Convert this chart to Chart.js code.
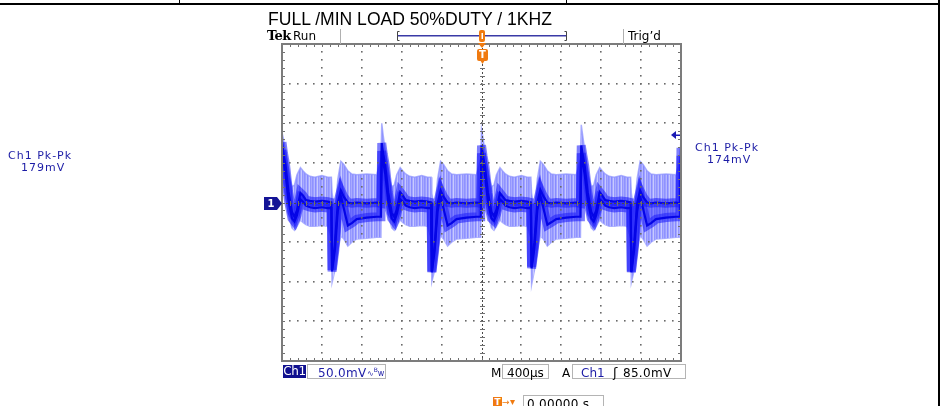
<!DOCTYPE html>
<html>
<head>
<meta charset="utf-8">
<title>FULL /MIN LOAD 50%DUTY / 1KHZ</title>
<script src="https://cdn.jsdelivr.net/npm/chart.js@4.4.1/dist/chart.umd.min.js"></script>
<style>
  html, body { margin: 0; padding: 0; background: #fff; }
  body { position: relative; width: 946px; height: 406px; overflow: hidden; font-family: 'DejaVu Sans', sans-serif; }
  #scope { position: absolute; left: 0; top: 0; }
  .txt { position: absolute; white-space: nowrap; line-height: 1; font-size: 12px; color: #000; }
  .blue { color: #1c1ca6; }
  .box { position: absolute; border: 1px solid #b4b4b4; box-sizing: border-box; }
  .rule { position: absolute; background: #000; }
</style>
</head>
<body>
<div class="rule" style="left:0;top:3px;width:940px;height:2px"></div>
<div class="rule" style="left:179px;top:0;width:1px;height:4px"></div>
<div class="rule" style="left:566px;top:0;width:1px;height:4px"></div>
<div class="rule" style="left:938px;top:0;width:2px;height:406px"></div>

<canvas id="scope" width="946" height="406"></canvas>

<div id="title" class="txt" style="left:268px;top:10px;font-family:'Liberation Sans Narrow','Liberation Sans',sans-serif;font-size:18px;transform-origin:0 0">FULL /MIN LOAD 50%DUTY / 1KHZ</div>
<div class="txt" style="left:267px;top:29px;font-family:'DejaVu Serif',serif;font-weight:bold;font-size:13px;letter-spacing:-0.6px">Tek</div>
<div class="txt" style="left:293px;top:30px">Run</div>
<div class="txt" style="left:628px;top:30px">Trig’d</div>

<!-- measurement readouts -->
<div class="txt blue" style="left:8px;top:150px;font-size:11px;letter-spacing:1px">Ch1 Pk-Pk</div>
<div class="txt blue" style="left:21px;top:162px;font-size:11px;letter-spacing:1px">179mV</div>
<div class="txt blue" style="left:695px;top:142px;font-size:11px;letter-spacing:1px">Ch1 Pk-Pk</div>
<div class="txt blue" style="left:707px;top:154px;font-size:11px;letter-spacing:1px">174mV</div>

<!-- status line -->
<div class="txt" style="left:283px;top:365px;width:23px;height:13px;line-height:13px;background:#10108f;color:#fff;letter-spacing:-0.4px;text-align:center">Ch1</div>
<div class="box" style="left:307px;top:364px;width:79px;height:15px"></div>
<div class="txt blue" style="left:318px;top:367px;letter-spacing:0.3px">50.0mV</div>
<div class="txt blue" style="left:367px;top:367px;font-size:8px">∿<sup style="font-size:6px">B</sup>w</div>
<div class="txt" style="left:491px;top:367px">M</div>
<div class="box" style="left:502px;top:364px;width:47px;height:15px"></div>
<div class="txt" style="left:507px;top:367px">400µs</div>
<div class="txt" style="left:562px;top:367px">A</div>
<div class="box" style="left:572px;top:364px;width:114px;height:15px"></div>
<div class="txt blue" style="left:581px;top:367px">Ch1</div>
<div class="txt" style="left:613px;top:366px;font-size:13px">ʃ</div>
<div class="txt" style="left:623px;top:367px;letter-spacing:0.3px">85.0mV</div>

<div class="txt" style="left:493px;top:397px;width:9px;height:10px;line-height:10px;background:#f07a10;color:#fff;font-size:9px;font-weight:bold;text-align:center">T</div>
<div class="txt" style="left:502px;top:398px;font-size:9px;color:#f07a10">→</div>
<div class="txt" style="left:510px;top:397px;font-size:10px;color:#f07a10">▾</div>
<div class="box" style="left:523px;top:395px;width:81px;height:15px"></div>
<div class="txt" style="left:527px;top:398px;letter-spacing:0.3px">0.00000 s</div>

<script>
// 400 µs/div horizontally, 50 mV/div vertically, 10 x 8 divisions
const timePerDiv = 400;
const voltsPerDiv = 50;
const xMin = -2000, xMax = 2000;
const yMin = -200, yMax = 200;
const triggerLevel = 85;

// sample times (µs), four 1 kHz periods on screen
const timeUs = [
  -2000, -1985, -1965, -1935, -1900, -1875, -1850, -1815, -1790, -1760, -1720, -1670, -1600, -1540, -1505, -1498, -1470, -1440, -1410, -1380, -1340, -1300, -1250, -1150, -1050,
  -1008, -1000, -985, -965, -935, -900, -875, -850, -815, -790, -760, -720, -670, -600, -540, -505, -498, -470, -440, -410, -380, -340, -300, -250, -150, -50,
  -8, 0, 15, 35, 65, 100, 125, 150, 185, 210, 240, 280, 330, 400, 460, 495, 502, 530, 560, 590, 620, 660, 700, 750, 850, 950,
  992, 1000, 1015, 1035, 1065, 1100, 1125, 1150, 1185, 1210, 1240, 1280, 1330, 1400, 1460, 1495, 1502, 1530, 1560, 1590, 1620, 1660, 1700, 1750, 1850, 1950,
  1992, 2000
];

// dense persistence trace, upper branch (mV)
const ch1Upper = [
  76, 62, 48, 14, -12, -18, -10, 12, 9, 3, 2, 1, 2, 1, 0, -85, -52, 0, 15, 7, 0, -1, 0, -1, 0,
  -1, 75, 61, 47, 13, -13, -18, -9, 13, 9, 3, 2, 1, 2, 1, 0, -87, -54, -1, 15, 7, 0, -1, 0, -1, 0,
  -1, 72, 59, 45, 12, -12, -17, -9, 12, 8, 3, 2, 1, 2, 1, 0, -81, -50, 0, 16, 8, 0, -1, 0, -1, 0,
  -1, 72, 60, 46, 13, -12, -18, -10, 13, 9, 3, 2, 1, 2, 1, 0, -87, -53, -1, 15, 7, 0, -1, 0, -1, 0,
  -1, 69
];

// dense persistence trace, lower branch (mV)
const ch1Lower = [
  66, 52, 36, 2, -20, -24, -16, 4, 1, -4, -6, -7, -6, -7, -7, -87, -60, -10, 8, -8, -29, -26, -21, -19, -18,
  -18, 65, 51, 36, 1, -20, -24, -15, 4, 1, -4, -6, -7, -6, -7, -7, -88, -61, -11, 8, -8, -29, -26, -21, -19, -18,
  -18, 62, 49, 34, 1, -20, -23, -15, 4, 1, -4, -6, -7, -6, -7, -7, -83, -58, -10, 9, -7, -28, -25, -21, -19, -18,
  -18, 62, 50, 35, 2, -20, -24, -16, 4, 1, -4, -6, -7, -6, -7, -7, -88, -60, -11, 8, -8, -29, -26, -21, -19, -18,
  -18, 59
];

// switching-noise envelope (mV)
const envHigh = [
  88, 80, 64, 36, 20, 22, 35, 44, 40, 36, 33, 32, 34, 32, 32, 12, -12, 30, 52, 48, 40, 36, 35, 36, 35,
  55, 100, 84, 66, 36, 20, 22, 35, 44, 40, 36, 33, 32, 34, 32, 32, 12, -12, 30, 52, 48, 40, 36, 35, 36, 35,
  55, 92, 82, 64, 36, 20, 22, 35, 44, 40, 36, 33, 32, 34, 32, 32, 12, -12, 30, 52, 48, 40, 36, 35, 36, 35,
  55, 98, 84, 66, 36, 20, 22, 35, 44, 40, 36, 33, 32, 34, 32, 32, 12, -12, 30, 52, 48, 40, 36, 35, 36, 35,
  55, 85
];
const envLow = [
  52, 35, 15, -16, -32, -35, -30, -22, -25, -28, -30, -30, -29, -30, -45, -101, -86, -60, -42, -46, -55, -50, -46, -45, -44,
  -44, 55, 35, 15, -16, -32, -35, -30, -22, -25, -28, -30, -30, -29, -30, -45, -100, -86, -60, -42, -46, -55, -50, -46, -45, -44,
  -44, 52, 33, 14, -16, -32, -35, -30, -22, -25, -28, -30, -30, -29, -30, -45, -104, -86, -60, -42, -46, -55, -50, -46, -45, -44,
  -44, 55, 35, 15, -16, -32, -35, -30, -22, -25, -28, -30, -30, -29, -30, -45, -101, -86, -60, -42, -46, -55, -50, -46, -45, -44,
  -44, 50
];

const pts = arr => timeUs.map((t, i) => ({ x: t, y: arr[i] }));

// fit the condensed title to its width in the screenshot
const title = document.getElementById('title');
title.style.transform = `scaleX(${284 / title.getBoundingClientRect().width})`;

// striped light-blue fill like the persistence streaks
function streakPattern() {
  const c = document.createElement('canvas');
  const cols = ['#8f92ff', '#9da0ff', '#b6b8ff', '#878aff', '#a2a5ff', '#c8caff', '#9396ff', '#a9abff'];
  c.width = cols.length; c.height = 1;
  const g = c.getContext('2d');
  cols.forEach((col, i) => { g.fillStyle = col; g.fillRect(i, 0, 1, 1); });
  return g.createPattern(c, 'repeat');
}

const graticule = {
  id: 'graticule',
  afterDatasetsDraw(chart) {
    const { ctx, chartArea: a, scales: { x, y } } = chart;
    const px = t => Math.round(x.getPixelForValue(t));
    const py = v => Math.round(y.getPixelForValue(v));
    const cx = px(0), cy = py(0);
    ctx.save();

    // dotted division lines
    ctx.fillStyle = '#6a6a6a';
    for (let t = xMin + timePerDiv; t < xMax; t += timePerDiv) {
      if (t === 0) continue;
      for (let v = yMin; v <= yMax; v += voltsPerDiv / 5) ctx.fillRect(px(t) - 1, py(v) - 1, 1.6, 1.6);
    }
    for (let v = yMin + voltsPerDiv; v < yMax; v += voltsPerDiv) {
      if (v === 0) continue;
      for (let t = xMin; t <= xMax; t += timePerDiv / 5) ctx.fillRect(px(t) - 1, py(v) - 1, 1.6, 1.6);
    }

    // centre cross with minor ticks
    ctx.strokeStyle = '#4a4a4a';
    ctx.lineWidth = 1;
    ctx.setLineDash([2, 2]);
    ctx.beginPath();
    ctx.moveTo(cx + 0.5, a.top); ctx.lineTo(cx + 0.5, a.bottom);
    ctx.moveTo(a.left, cy + 0.5); ctx.lineTo(a.right, cy + 0.5);
    ctx.stroke();
    ctx.setLineDash([]);
    ctx.strokeStyle = '#707070';
    ctx.beginPath();
    for (let t = xMin; t <= xMax; t += timePerDiv / 5) {
      const p = px(t) + 0.5;
      ctx.moveTo(p, cy - 2); ctx.lineTo(p, cy + 3);
      ctx.moveTo(p, a.top); ctx.lineTo(p, a.top + 3);
      ctx.moveTo(p, a.bottom); ctx.lineTo(p, a.bottom - 3);
    }
    for (let v = yMin; v <= yMax; v += voltsPerDiv / 5) {
      const p = py(v) + 0.5;
      ctx.moveTo(cx - 2, p); ctx.lineTo(cx + 3, p);
      ctx.moveTo(a.left, p); ctx.lineTo(a.left + 3, p);
      ctx.moveTo(a.right, p); ctx.lineTo(a.right - 3, p);
    }
    ctx.stroke();

    // frame
    ctx.strokeStyle = '#7c7c7c';
    ctx.lineWidth = 2;
    ctx.strokeRect(a.left, a.top, a.right - a.left, a.bottom - a.top);
    ctx.restore();
  },
  afterDraw(chart) {
    const { ctx, chartArea: a, scales: { x, y } } = chart;
    const tx = Math.round(x.getPixelForValue(0));
    const gy = Math.round(y.getPixelForValue(0));
    const ly = Math.round(y.getPixelForValue(triggerLevel));
    ctx.save();

    // record-length bar above the graticule
    ctx.fillStyle = '#b0b0b0';
    ctx.fillRect(340, 29, 1, 15);
    ctx.fillRect(623, 29, 1, 15);
    ctx.fillStyle = '#3a3aa6';
    ctx.fillRect(397, 35, 170, 1.5);
    ctx.strokeStyle = '#444';
    ctx.lineWidth = 1;
    ctx.beginPath();
    ctx.moveTo(399.5, 31.5); ctx.lineTo(397.5, 31.5); ctx.lineTo(397.5, 40.5); ctx.lineTo(399.5, 40.5);
    ctx.moveTo(564.5, 31.5); ctx.lineTo(566.5, 31.5); ctx.lineTo(566.5, 40.5); ctx.lineTo(564.5, 40.5);
    ctx.stroke();

    // trigger position markers
    ctx.fillStyle = '#f07a10';
    ctx.beginPath(); ctx.roundRect(tx - 3, 30, 6, 12, 2); ctx.fill();
    ctx.fillStyle = '#fff';
    ctx.fillRect(tx - 0.5, 33, 1.5, 6);
    ctx.fillStyle = '#f07a10';
    ctx.beginPath(); ctx.moveTo(tx - 4, 43); ctx.lineTo(tx + 4, 43); ctx.lineTo(tx, 48); ctx.fill();
    ctx.beginPath(); ctx.roundRect(tx - 5, 49, 11, 12, 2); ctx.fill();
    ctx.beginPath(); ctx.moveTo(tx - 2, 60); ctx.lineTo(tx + 3, 60); ctx.lineTo(tx + 0.5, 64); ctx.fill();
    ctx.fillStyle = '#fff';
    ctx.font = 'bold 10px "DejaVu Sans"';
    ctx.textAlign = 'center';
    ctx.textBaseline = 'middle';
    ctx.fillText('T', tx + 0.5, 55.5);

    // channel 1 ground marker
    ctx.fillStyle = '#141496';
    ctx.beginPath();
    ctx.moveTo(264, gy - 6); ctx.lineTo(277, gy - 6); ctx.lineTo(a.left, gy + 0.5);
    ctx.lineTo(277, gy + 7); ctx.lineTo(264, gy + 7); ctx.closePath(); ctx.fill();
    ctx.fillStyle = '#fff';
    ctx.font = 'bold 10px "DejaVu Sans"';
    ctx.fillText('1', 271, gy + 1);

    // trigger level arrow on the right edge
    ctx.fillStyle = '#1a1ab4';
    ctx.beginPath(); ctx.moveTo(a.right - 10, ly); ctx.lineTo(a.right - 5, ly - 4); ctx.lineTo(a.right - 5, ly + 4); ctx.fill();
    ctx.fillRect(a.right - 6, ly - 0.5, 5, 1.5);
    ctx.restore();
  }
};

const line = (data, color, width, extra) => Object.assign({
  data, borderColor: color, borderWidth: width, pointRadius: 0, tension: 0, fill: false
}, extra || {});

new Chart(document.getElementById('scope'), {
  type: 'line',
  data: {
    datasets: [
      line(pts(ch1Upper), '#0505e6', 2.2),
      line(pts(ch1Lower), '#0505e6', 2.2),
      line(pts(ch1Upper), 'rgba(20,20,250,0.55)', 9, { fill: '+1', backgroundColor: 'rgba(40,40,250,0.45)' }),
      line(pts(ch1Lower), 'rgba(20,20,250,0.55)', 9),
      line(pts(envHigh), 'rgba(140,145,255,0.7)', 1.5, { fill: '+1', backgroundColor: streakPattern() }),
      line(pts(envLow), 'rgba(140,145,255,0.7)', 1.5)
    ]
  },
  options: {
    responsive: false,
    animation: false,
    events: [],
    layout: { padding: { left: 282, right: 265, top: 44, bottom: 45 } },
    plugins: { legend: { display: false }, tooltip: { enabled: false } },
    scales: {
      x: { type: 'linear', min: xMin, max: xMax, display: false },
      y: { type: 'linear', min: yMin, max: yMax, display: false }
    }
  },
  plugins: [graticule]
});
</script>
</body>
</html>
